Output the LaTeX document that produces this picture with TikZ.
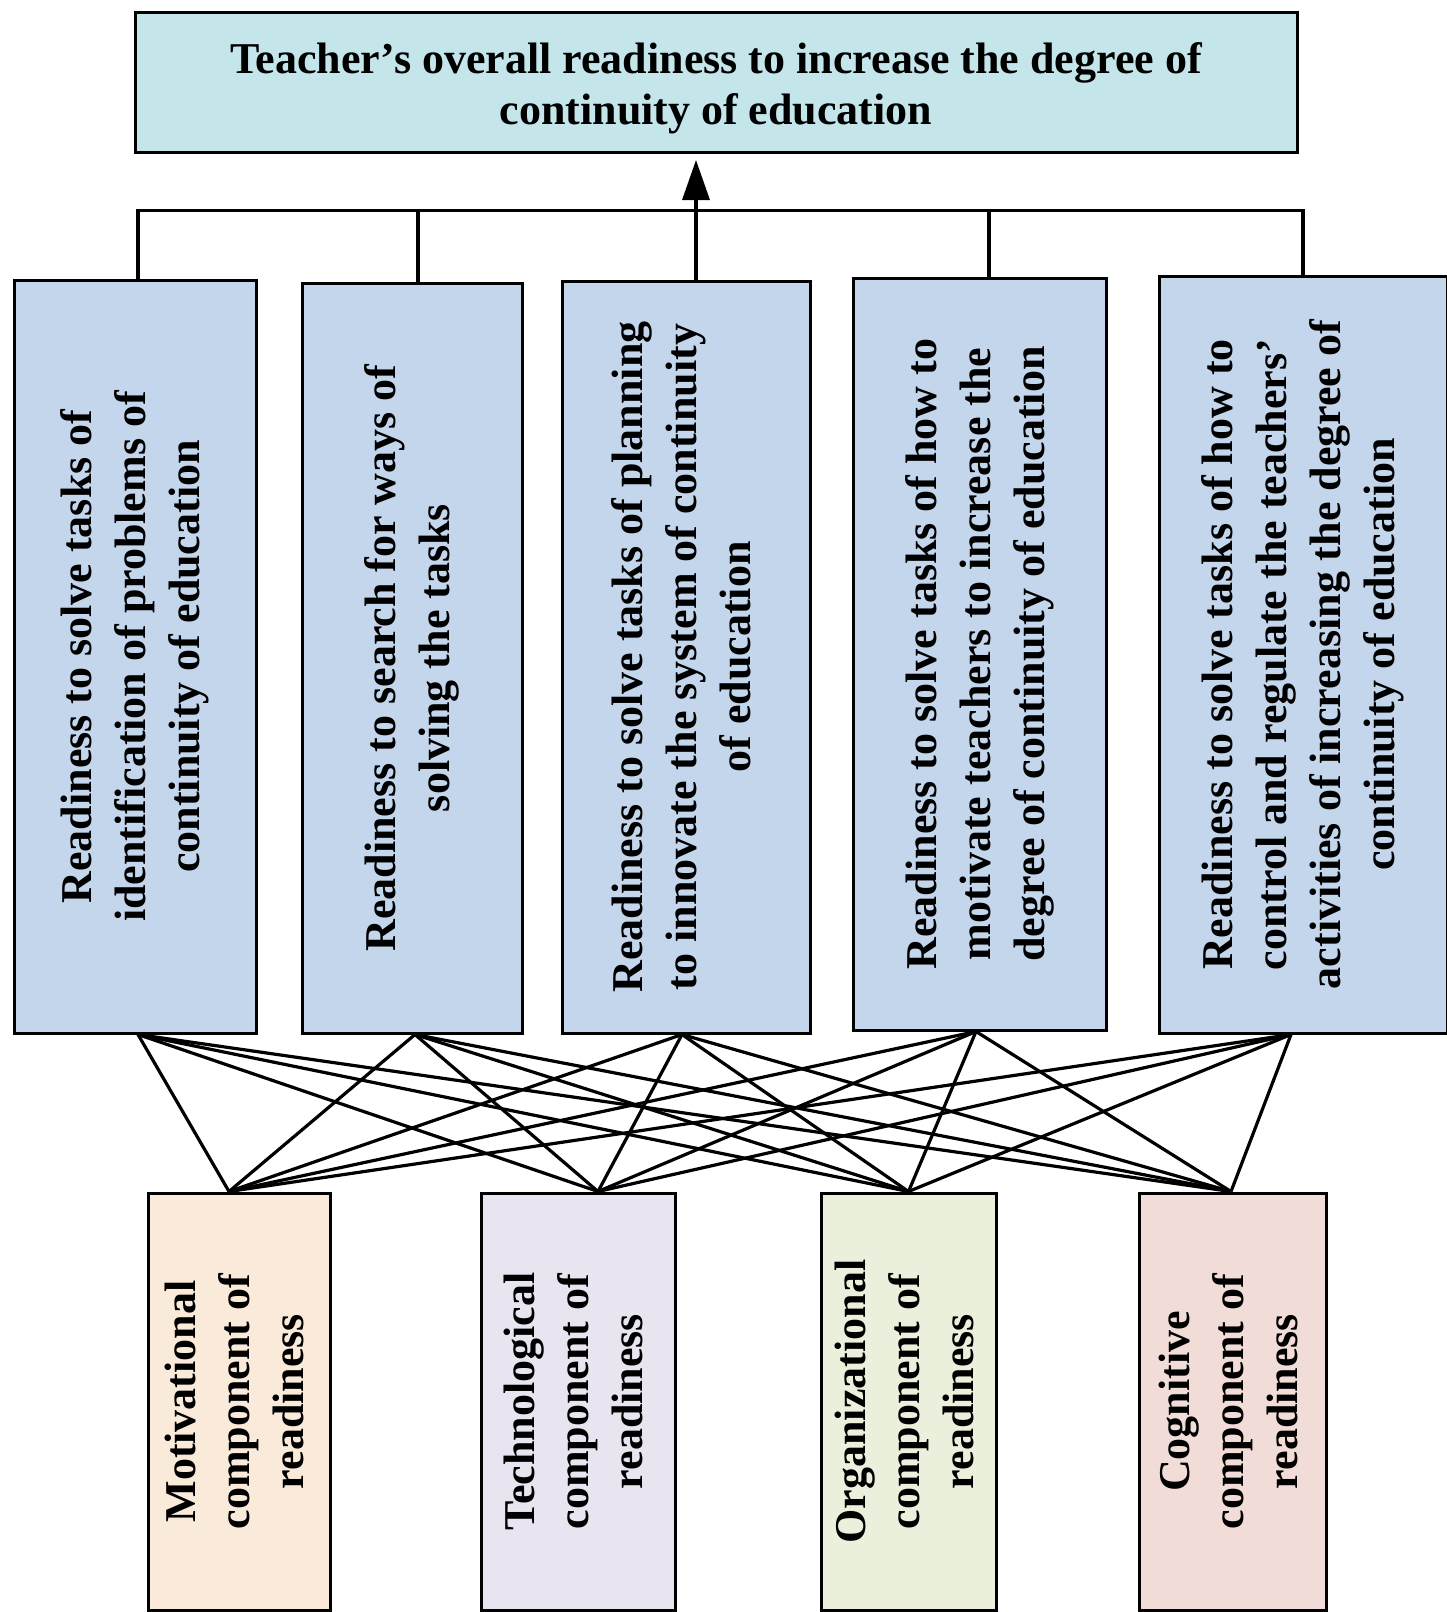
\documentclass[tikz,border=0pt]{standalone}
\usepackage{fontspec}
\setmainfont{Liberation Serif}
\usetikzlibrary{arrows.meta,calc}
\definecolor{topfill}{HTML}{C4E5EA}
\definecolor{midfill}{HTML}{C4D6EC}
\definecolor{motfill}{HTML}{FAEADA}
\definecolor{tecfill}{HTML}{E9E5F0}
\definecolor{orgfill}{HTML}{EBF0DC}
\definecolor{cogfill}{HTML}{F1DCD8}
\newcommand{\vtext}[1]{\rotatebox{90}{\begin{tabular}{@{}c@{}}#1\end{tabular}}}
\begin{document}
\begin{tikzpicture}[x=1pt,y=-1pt,
  box/.style={draw, line width=3pt, inner sep=0pt, font=\bfseries\fontsize{44}{54}\selectfont},
  conn/.style={line width=3.2pt},
  bus/.style={line width=3.2pt}]
\useasboundingbox (0,0) rectangle (1446,1612);
% top box
\node[box, fill=topfill, minimum width=1162pt, minimum height=140pt,
      font=\bfseries\fontsize{44}{51}\selectfont] (top) at (716,82.5)
  {\raisebox{-6pt}[\height][\depth]{\begin{tabular}{@{}c@{}}Teacher’s overall readiness to increase the degree of\\continuity of education\end{tabular}}};
% middle boxes
\node[box, fill=midfill, minimum width=242pt, minimum height=753pt] (m1) at (135,656.5)
  {\vtext{Readiness to solve tasks of\\identification of problems of\\continuity of education}};
\node[box, fill=midfill, minimum width=220pt, minimum height=750pt] (m2) at (412,658)
  {\vtext{Readiness to search for ways of\\solving the tasks}};
\node[box, fill=midfill, minimum width=248pt, minimum height=752pt] (m3) at (686,657)
  {\vtext{Readiness to solve tasks of planning\\to innovate the system of continuity\\of education}};
\node[box, fill=midfill, minimum width=253pt, minimum height=752pt] (m4) at (979.5,654)
  {\vtext{Readiness to solve tasks of how to\\motivate teachers to increase the\\degree of continuity of education}};
\node[box, fill=midfill, minimum width=288pt, minimum height=757pt] (m5) at (1303,654.5)
  {\vtext{Readiness to solve tasks of how to\\control and regulate the teachers’\\activities of increasing the degree of\\continuity of education}};
% bottom boxes
\node[box, fill=motfill, minimum width=182pt, minimum height=417pt] (b1) at (239,1401.5)
  {\vtext{Motivational\\component of\\readiness}};
\node[box, fill=tecfill, minimum width=194pt, minimum height=417pt] (b2) at (578,1401.5)
  {\vtext{Technological\\component of\\readiness}};
\node[box, fill=orgfill, minimum width=175pt, minimum height=417pt] (b3) at (908.5,1401.5)
  {\vtext{Organizational\\component of\\readiness}};
\node[box, fill=cogfill, minimum width=187pt, minimum height=417pt] (b4) at (1232.5,1401.5)
  {\vtext{Cognitive\\component of\\readiness}};
% bus coordinates
\coordinate (t1) at ($(m1.north)+(3,0)$);
\coordinate (t2) at ($(m2.north)+(6,0)$);
\coordinate (t3) at ($(m3.north)+(10,0)$);
\coordinate (t4) at ($(m4.north)+(9.5,0)$);
\coordinate (t5) at ($(m5.north)+(0,0)$);
\coordinate (busL) at ($(t1)+(0,-68)$);
\coordinate (busR) at ($(t5)+(0,-64)$);
\draw[bus] (t1) -- (busL) -- (busR) -- (t5);
\draw[bus] (t2) -- (t2 |- busL);
\draw[bus] (t4) -- (t4 |- busL);
\draw[line width=3.6pt, -{Triangle[length=40pt,width=27pt]}, shorten >=6pt] (t3) -- (t3 |- top.south);
% crossing connectors
\coordinate (mb1) at ($(m1.south)+(3,0)$);
\coordinate (mb2) at ($(m2.south)+(3,0)$);
\coordinate (mb3) at ($(m3.south)+(-4,0)$);
\coordinate (mb4) at ($(m4.south)+(-3.5,0)$);
\coordinate (mb5) at ($(m5.south)+(-12,0)$);
\coordinate (bt1) at ($(b1.north)+(-10,0)$);
\coordinate (bt2) at ($(b2.north)+(20,0)$);
\coordinate (bt3) at ($(b3.north)+(0,0)$);
\coordinate (bt4) at ($(b4.north)+(-1.5,0)$);
\foreach \i in {1,...,5} {
  \foreach \j in {1,...,4} {
    \draw[conn] (mb\i) -- (bt\j);
  }
}
\end{tikzpicture}
\end{document}
